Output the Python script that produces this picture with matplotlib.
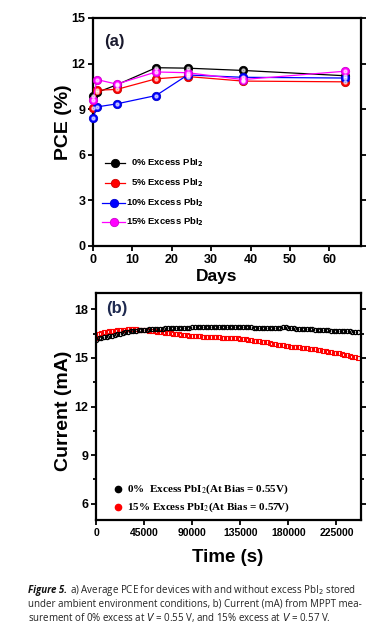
import matplotlib.pyplot as plt
from matplotlib.ticker import MultipleLocator
import numpy as np

# panel (a) data: PCE vs storage days
days = [0, 1, 6, 16, 24, 38, 64]
pce_0 = [9.9, 10.1, 10.6, 11.73, 11.7, 11.55, 11.2]
pce_5 = [9.1, 10.25, 10.3, 11.0, 11.15, 10.85, 10.8]
pce_10 = [8.4, 9.15, 9.35, 9.9, 11.25, 11.1, 11.05]
pce_15 = [9.6, 10.95, 10.65, 11.45, 11.4, 10.95, 11.5]
pce_labels = ['0% Excess PbI$_\\mathbf{2}$', '5% Excess PbI$_\\mathbf{2}$',
              '10% Excess PbI$_\\mathbf{2}$', '15% Excess PbI$_\\mathbf{2}$']

# panel (b) data: MPPT current, one reading every 2500 s
step_s = 2500
cur_0 = [16.10, 16.20, 16.25, 16.28, 16.30, 16.32, 16.35, 16.40, 16.45, 16.50,
         16.55, 16.58, 16.60, 16.63, 16.65, 16.68, 16.70, 16.71, 16.72, 16.74,
         16.75, 16.77, 16.78, 16.79, 16.80, 16.81, 16.82, 16.82, 16.83, 16.84,
         16.85, 16.85, 16.86, 16.86, 16.87, 16.87, 16.88, 16.88, 16.88, 16.89,
         16.89, 16.89, 16.90, 16.90, 16.90, 16.90, 16.90, 16.90, 16.90, 16.90,
         16.90, 16.90, 16.90, 16.90, 16.89, 16.89, 16.88, 16.88, 16.88, 16.87,
         16.87, 16.86, 16.86, 16.85, 16.85, 16.85, 16.85, 16.86, 16.86, 16.87,
         16.88, 16.88, 16.87, 16.85, 16.82, 16.81, 16.80, 16.79, 16.78, 16.77,
         16.76, 16.75, 16.74, 16.73, 16.72, 16.71, 16.70, 16.69, 16.68, 16.67,
         16.66, 16.66, 16.65, 16.65, 16.64, 16.63, 16.62, 16.60, 16.58]
cur_15 = [16.20, 16.45, 16.55, 16.59, 16.62, 16.64, 16.66, 16.68, 16.70, 16.72,
          16.73, 16.74, 16.75, 16.75, 16.75, 16.75, 16.74, 16.73, 16.72, 16.70,
          16.68, 16.66, 16.64, 16.62, 16.60, 16.58, 16.56, 16.54, 16.52, 16.50,
          16.48, 16.46, 16.44, 16.41, 16.38, 16.36, 16.35, 16.34, 16.33, 16.32,
          16.31, 16.30, 16.30, 16.29, 16.28, 16.27, 16.26, 16.25, 16.25, 16.24,
          16.23, 16.22, 16.21, 16.20, 16.19, 16.17, 16.15, 16.12, 16.10, 16.07,
          16.05, 16.02, 16.00, 15.97, 15.95, 15.91, 15.88, 15.85, 15.82, 15.80,
          15.77, 15.74, 15.72, 15.70, 15.68, 15.66, 15.64, 15.62, 15.60, 15.58,
          15.56, 15.54, 15.52, 15.50, 15.47, 15.45, 15.42, 15.39, 15.36, 15.33,
          15.30, 15.27, 15.24, 15.20, 15.16, 15.12, 15.08, 15.04, 15.00]
cur_labels = ['0%  Excess PbI$_2$(At Bias = 0.55V)',
              '15% Excess PbI$_2$(At Bias = 0.57V)']

W, H = 385, 642
fig = plt.figure(figsize=(W / 100, H / 100), dpi=100)
plt.rcParams['font.family'] = ['Liberation Sans', 'DejaVu Sans']

def px(x, y):
    # pixel position -> figure fraction
    return x / W, 1 - y / H

def style_axes(ax, xsize=9, ysize=9):
    for s in ax.spines.values():
        s.set_linewidth(1.6)
    ax.tick_params(which='both', direction='out', width=1.3, right=True,
                   pad=2)
    ax.tick_params(axis='x', labelsize=xsize)
    ax.tick_params(axis='y', labelsize=ysize)
    ax.tick_params(which='major', length=3.5)
    ax.tick_params(which='minor', length=2.2)
    for lab in ax.get_xticklabels() + ax.get_yticklabels():
        lab.set_fontweight('bold')

# ---------- panel (a)
ax1 = fig.add_axes([93 / W, 1 - 246 / H, 268 / W, 228 / H])
colors = ['black', 'red', 'blue', 'magenta']
edges = ['#000000', '#cc0000', '#0000cc', '#cc00cc']
for vals, c, ec in zip([pce_0, pce_5, pce_10, pce_15], colors, edges):
    ax1.plot(days, vals, '-', color=c, lw=0.9, marker='o', ms=6,
             mfc=c, mec=ec, mew=0.6, clip_on=False, zorder=3)
    ax1.plot(days, vals, 'o', ms=2.2, color='white', alpha=0.6,
             clip_on=False, zorder=4)
ax1.set_xlim(0, 68)
ax1.set_ylim(0, 15)
ax1.set_xticks([0, 10, 20, 30, 40, 50, 60])
ax1.set_yticks([0, 3, 6, 9, 12, 15])
style_axes(ax1)
fig.text(*px(64, 122), 'PCE (%)', fontsize=14, fontweight='bold',
         rotation=90, ha='center', va='center')
fig.text(*px(217, 276), 'Days', fontsize=12.5, fontweight='bold',
         ha='center', va='center')
ax1.text(0.04, 0.93, '(a)', transform=ax1.transAxes, fontsize=12,
         fontweight='bold', va='top', color='#1a1a2e')

# legend (a), labels right aligned like the original
leg_rows = [163, 183, 203, 222]
leg_x0 = [105, 105, 102, 102]
for lab, c, ec, yr, x0 in zip(pce_labels, colors, edges, leg_rows, leg_x0):
    fx0, fy = px(x0, yr)
    fx1, _ = px(125, yr)
    fig.add_artist(plt.Line2D([fx0, fx1], [fy, fy], color=c, lw=0.9,
                              transform=fig.transFigure))
    fig.add_artist(plt.Line2D([(fx0 + fx1) / 2], [fy], marker='o', ms=6,
                              color=c, mec=ec, mew=0.6,
                              transform=fig.transFigure))
    fig.text(*px(204, yr), lab, fontsize=6.8, fontweight='bold',
             ha='right', va='center')

# ---------- panel (b)
ax2 = fig.add_axes([96 / W, 1 - 520 / H, 265 / W, 227 / H])
time_s = np.arange(len(cur_0)) * step_s
ax2.plot(time_s, cur_15, 's', ms=3.0, mfc='none', mec='red', mew=0.8)
ax2.plot(time_s, cur_0, 'o', ms=3.0, mfc='none', mec='black', mew=0.9)
ax2.set_xlim(0, 248000)
ax2.set_ylim(5, 19)
ax2.set_xticks([0, 45000, 90000, 135000, 180000, 225000])
ax2.set_yticks([6, 9, 12, 15, 18])
ax2.yaxis.set_minor_locator(MultipleLocator(1.5))
style_axes(ax2, xsize=7.5, ysize=9)
fig.text(*px(63, 411), 'Current (mA)', fontsize=14, fontweight='bold',
         rotation=90, ha='center', va='center')
fig.text(*px(228, 558), 'Time (s)', fontsize=13.5, fontweight='bold',
         ha='center', va='center')
ax2.text(0.04, 0.965, '(b)', transform=ax2.transAxes, fontsize=12,
         fontweight='bold', va='top', color='#1f2a50')
for lab, c, yr in zip(cur_labels, ['black', 'red'], [489, 507]):
    fig.add_artist(plt.Line2D([118 / W], [1 - yr / H], marker='o', ms=4.5,
                              color=c, transform=fig.transFigure))
    fig.text(*px(127, yr), lab, fontsize=8, fontweight='bold',
             family='Liberation Serif', math_fontfamily='stix', va='center')

# ---------- caption
cap = 'Open Sans'
cap_kw = dict(fontsize=7.0, family=cap, va='center', color='#222222')
fig.canvas.draw()
rend = fig.canvas.get_renderer()
t0 = fig.text(*px(28, 590), 'Figure 5.', fontsize=7.0, fontweight='bold',
              style='italic', family=cap, va='center', color='#111111')
ext = t0.get_window_extent(renderer=rend)
fig.text(ext.x1 / W + 3 / W, 1 - 590 / H,
         'a) Average PCE for devices with and without excess PbI$_2$ stored',
         **cap_kw)
fig.text(*px(28, 604),
         'under ambient environment conditions, b) Current (mA) from MPPT mea-',
         **cap_kw)
fig.text(*px(28, 618),
         'surement of 0% excess at $V$ = 0.55 V, and 15% excess at $V$ = 0.57 V.',
         **cap_kw)

fig.savefig('out.png', dpi=100)
